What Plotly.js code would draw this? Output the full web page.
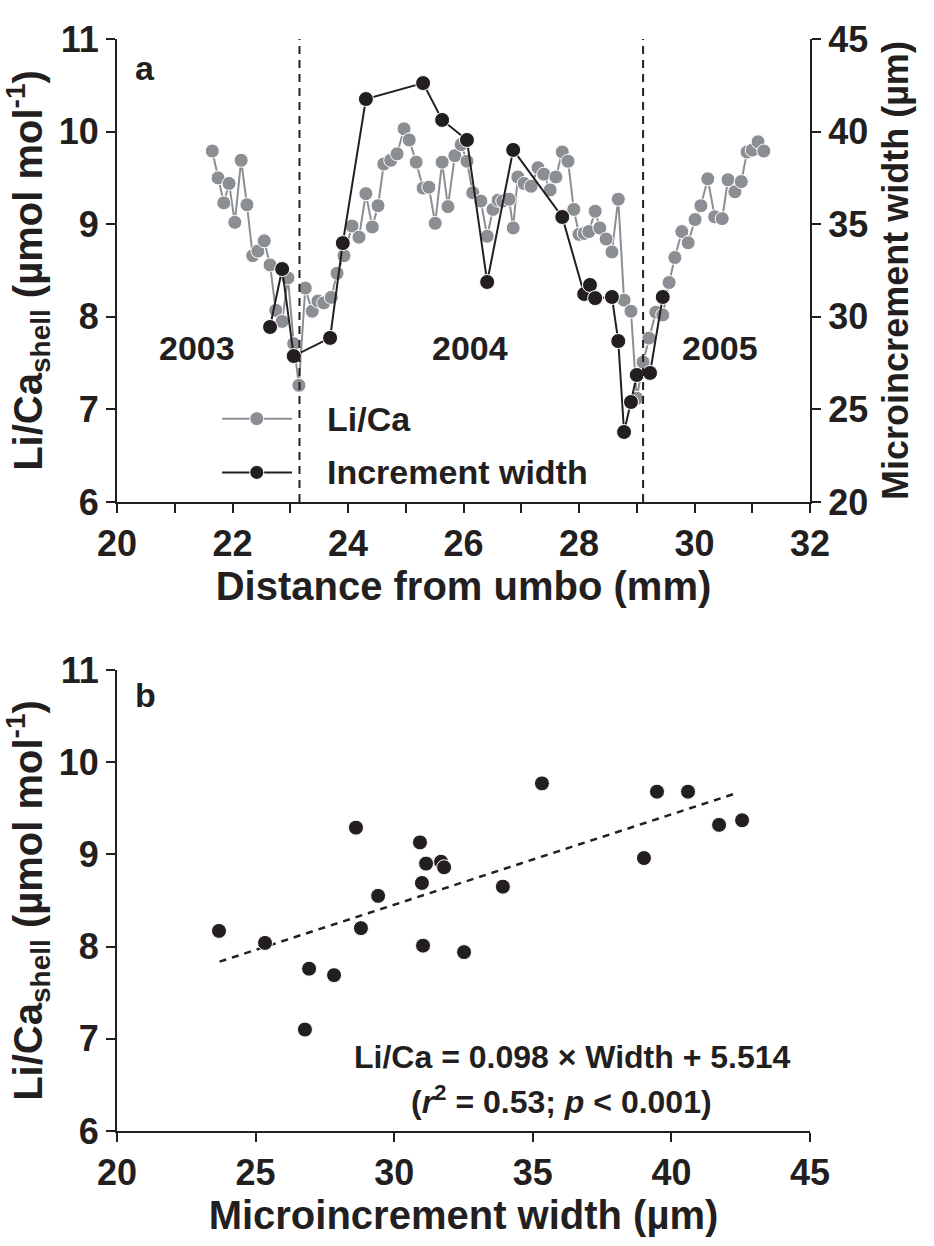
<!DOCTYPE html>
<html>
<head>
<meta charset="utf-8">
<script src="https://cdn.plot.ly/plotly-3.0.1.min.js"></script>
<style>html,body{margin:0;padding:0;background:#fff;}</style>
</head>
<body>
<div id="chart" style="width:934px;height:1246px;"></div>
<script>
// ---- Panel a: Li/Ca profile (left axis) ----
const distLi = [21.65,21.75,21.85,21.94,22.04,22.15,22.25,22.35,22.44,22.55,
  22.65,22.75,22.86,22.96,23.06,23.15,23.26,23.38,23.48,23.58,
  23.71,23.81,23.93,24.07,24.19,24.31,24.42,24.52,24.62,24.74,
  24.85,24.97,25.06,25.18,25.30,25.40,25.51,25.63,25.73,25.85,
  25.96,26.06,26.16,26.30,26.41,26.51,26.60,26.68,26.79,26.86,
  26.94,27.05,27.17,27.29,27.39,27.50,27.60,27.71,27.81,27.91,
  28.00,28.09,28.17,28.28,28.36,28.47,28.57,28.68,28.78,28.90,
  29.00,29.11,29.21,29.33,29.45,29.56,29.66,29.78,29.89,30.01,
  30.11,30.23,30.35,30.48,30.58,30.70,30.81,30.91,31.00,31.10,31.20];
const liCa = [9.79,9.50,9.23,9.44,9.02,9.69,9.21,8.66,8.71,8.82,
  8.56,8.07,7.95,8.42,7.71,7.26,8.31,8.06,8.17,8.15,
  8.21,8.47,8.66,8.98,8.86,9.33,8.97,9.20,9.65,9.69,
  9.76,10.03,9.91,9.67,9.39,9.40,9.01,9.67,9.19,9.74,
  9.86,9.68,9.34,9.25,8.87,9.16,9.26,9.25,9.27,8.96,
  9.51,9.44,9.41,9.61,9.54,9.37,9.51,9.78,9.68,9.16,
  8.89,8.90,8.92,9.14,8.96,8.84,8.70,9.27,8.18,8.06,
  7.12,7.51,7.77,8.05,8.02,8.37,8.64,8.92,8.80,9.05,
  9.20,9.49,9.08,9.06,9.48,9.35,9.46,9.78,9.80,9.89,9.79];

// ---- Panel a: increment width (right axis) ----
const distW = [22.65,22.86,23.06,23.69,23.91,24.31,25.30,25.63,26.06,26.41,
  26.86,27.71,28.09,28.19,28.28,28.57,28.68,28.78,28.90,29.00,29.23,29.45];
const incW = [29.45,32.58,27.88,28.86,33.98,41.76,42.62,40.63,39.55,31.88,
  39.01,35.39,31.23,31.72,31.01,31.07,28.69,23.78,25.40,26.86,26.97,31.07];

// year boundaries (mm) and year labels
const boundaries = [23.16, 29.11];
const yearLabels = ['2003', '2004', '2005'];
const yearPos = [21.39, 26.11, 30.44];

// ---- Panel b: scatter ----
const scatW = [23.68,25.34,26.78,26.93,27.83,28.62,28.80,29.42,30.93,31.00,31.04,
  31.15,31.69,31.80,32.52,33.92,35.33,39.01,39.48,40.60,41.72,42.55];
const scatLi = [8.17,8.04,7.10,7.76,7.69,9.29,8.20,8.55,9.13,8.69,8.01,
  8.90,8.92,8.86,7.94,8.65,9.77,8.96,9.68,9.68,9.32,9.37];
const fitSlope = 0.098, fitIntercept = 5.514;
const fitX = [23.7, 42.4];
const fitY = fitX.map(w => fitSlope * w + fitIntercept);

const INK = '#231f20';
const GRAY = '#8b8e92';
const FONT = 'Liberation Sans, Arial, Helvetica, sans-serif';
const tickFont = {family: FONT, size: 36, color: INK, weight: 'bold'};
const titleFont = {family: FONT, size: 40, color: INK, weight: 'bold'};
const rightTitleFont = {family: FONT, size: 36, color: INK, weight: 'bold'};

const traces = [
  {x: distLi, y: liCa, xaxis: 'x', yaxis: 'y', mode: 'lines+markers', name: 'Li/Ca',
   line: {color: GRAY, width: 2},
   marker: {color: GRAY, size: 14, line: {color: '#fff', width: 1}}, cliponaxis: false},
  {x: distW, y: incW, xaxis: 'x', yaxis: 'y2', mode: 'lines+markers', name: 'Increment width',
   line: {color: INK, width: 2},
   marker: {color: INK, size: 15, line: {color: '#fff', width: 1}}, cliponaxis: false},
  {x: fitX, y: fitY, xaxis: 'x2', yaxis: 'y3', mode: 'lines',
   line: {color: INK, width: 2.5, dash: '7px,6px'}},
  {x: scatW, y: scatLi, xaxis: 'x2', yaxis: 'y3', mode: 'markers',
   marker: {color: INK, size: 15, line: {color: '#fff', width: 1}}, cliponaxis: false}
];

function axisBase(extra) {
  return Object.assign({
    showgrid: false, zeroline: false, showline: true, linecolor: INK, linewidth: 2,
    ticks: 'outside', ticklen: 9, tickwidth: 2, tickcolor: INK, tickfont: tickFont,
    automargin: false, fixedrange: true
  }, extra);
}

const shapes = [];
boundaries.forEach(b => shapes.push({type: 'line', xref: 'x', yref: 'y', x0: b, x1: b, y0: 6, y1: 11,
  line: {color: INK, width: 2, dash: '8px,6px'}}));

// legend (manual)
const legendRows = [{y: 6.90, color: GRAY, text: 'Li/Ca'}, {y: 6.32, color: INK, text: 'Increment width'}];
legendRows.forEach(r => {
  shapes.push({type: 'line', xref: 'x', yref: 'y', x0: 21.82, x1: 23.03, y0: r.y, y1: r.y,
    line: {color: r.color, width: 2}});
  shapes.push({type: 'circle', xref: 'x', yref: 'y', xsizemode: 'pixel', ysizemode: 'pixel',
    xanchor: 22.42, yanchor: r.y, x0: -7, x1: 7, y0: -7, y1: 7,
    fillcolor: r.color, line: {color: '#fff', width: 1}});
});

const annFont = {family: FONT, size: 34, color: INK, weight: 'bold'};
const annotations = [];
yearLabels.forEach((t, i) => annotations.push({xref: 'x', yref: 'y', x: yearPos[i], y: 7.66,
  text: t, showarrow: false, font: annFont, xanchor: 'center', yanchor: 'middle'}));
legendRows.forEach(r => annotations.push({xref: 'x', yref: 'y', x: 23.60, y: r.y, text: r.text,
  showarrow: false, font: annFont, xanchor: 'left', yanchor: 'middle'}));
annotations.push({xref: 'x', yref: 'y', x: 20.48, y: 10.69, text: 'a', showarrow: false,
  font: annFont, xanchor: 'center', yanchor: 'middle'});
annotations.push({xref: 'x2', yref: 'y3', x: 21.01, y: 10.73, text: 'b', showarrow: false,
  font: annFont, xanchor: 'center', yanchor: 'middle'});
annotations.push({xref: 'x2', yref: 'y3', x: 36.45, y: 6.80,
  text: 'Li/Ca = 0.098 × Width + 5.514', showarrow: false,
  font: {family: FONT, size: 32, color: INK, weight: 'bold'}, xanchor: 'center', yanchor: 'middle'});
annotations.push({xref: 'x2', yref: 'y3', x: 36.05, y: 6.34,
  text: '(<i>r</i><sup>2</sup> = 0.53; <i>p</i> &lt; 0.001)', showarrow: false,
  font: {family: FONT, size: 32, color: INK, weight: 'bold'}, xanchor: 'center', yanchor: 'middle'});

const layout = {
  width: 934, height: 1246,
  margin: {l: 117, r: 124, t: 39, b: 115, pad: 0},
  paper_bgcolor: '#fff', plot_bgcolor: 'rgba(0,0,0,0)',
  showlegend: false,
  font: {family: FONT, color: INK},
  xaxis: axisBase({domain: [0, 1], anchor: 'y', range: [20, 32], dtick: 2, tick0: 20,
    minor: {dtick: 1, ticks: 'outside', ticklen: 9, tickwidth: 2, tickcolor: INK},
    title: {text: 'Distance from umbo (mm)', font: titleFont, standoff: 0}}),
  yaxis: axisBase({domain: [0.576, 1], anchor: 'x', range: [6, 11], dtick: 1,
    title: {text: 'Li/Ca<sub>shell</sub> (µmol mol<sup>-1</sup>)', font: titleFont, standoff: 4}}),
  yaxis2: axisBase({overlaying: 'y', side: 'right', anchor: 'x', range: [20, 45], dtick: 5,
    title: {text: 'Microincrement width (µm)', font: rightTitleFont, standoff: 16}}),
  xaxis2: axisBase({domain: [0, 1], anchor: 'y3', range: [20, 45], dtick: 5, tick0: 20,
    title: {text: 'Microincrement width (µm)', font: titleFont, standoff: 2}}),
  yaxis3: axisBase({domain: [0, 0.4222], anchor: 'x2', range: [6, 11], dtick: 1,
    title: {text: 'Li/Ca<sub>shell</sub> (µmol mol<sup>-1</sup>)', font: titleFont, standoff: 4}}),
  shapes: shapes,
  annotations: annotations
};

Plotly.newPlot('chart', traces, layout, {displayModeBar: false, staticPlot: true});
</script>
</body>
</html>
